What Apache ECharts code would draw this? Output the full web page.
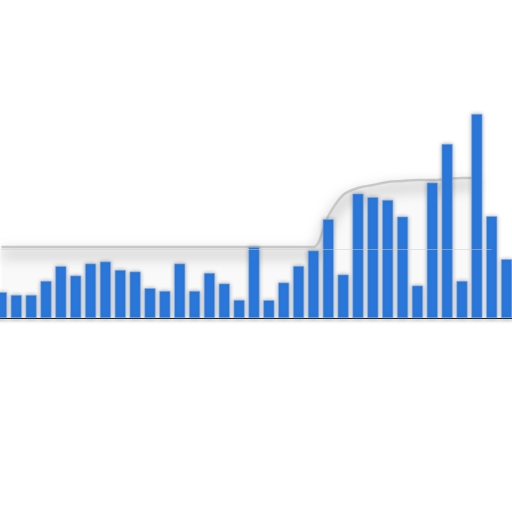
<!DOCTYPE html>
<html>
<head>
<meta charset="utf-8">
<script src="https://cdn.jsdelivr.net/npm/echarts@6/dist/echarts.min.js"></script>
<style>
html,body{margin:0;padding:0;background:#fff;overflow:hidden;width:512px;height:512px;}
#c{position:absolute;left:-6px;top:0;width:520px;height:512px;}
</style>
</head>
<body>
<div id="c"></div>
<script>
const categories = ['1','2','3','4','5','6','7','8','9','10','11','12','13','14','15','16','17','18','19','20','21','22','23','24','25','26','27','28','29','30','31','32','33','34','35'];
const barValues = [12.9,11.5,11.5,18.5,25.9,21.2,27.2,28.2,24,23.2,14.9,13.5,27.2,13.5,22.5,17.2,9,35.5,8.9,17.7,26,33.7,49.4,21.7,62.2,60.4,59,50.7,16.2,67.7,87,18.5,102,50.9,29.4];
const envelopeValues = [35.5,35.5,35.5,35.5,35.5,35.5,35.5,35.5,35.5,35.5,35.5,35.5,35.5,35.5,35.5,35.5,35.5,35.5,35.5,35.5,35.5,35.5,51,61.5,65,66.5,68,68.5,69,69,69.5,70,70,null,null];
const referenceValue = 34.5;
const referenceStart = '1';
const referenceEnd = '34';
const yMax = 150;

const chart = echarts.init(document.getElementById('c'));
chart.setOption({
  animation: false,
  backgroundColor: '#fff',
  grid: {left: 0, right: 0, top: 18, bottom: 194},
  xAxis: {
    type: 'category',
    data: categories,
    boundaryGap: true,
    axisLine: {show: true, lineStyle: {color: '#222', width: 1, shadowColor: 'rgba(0,0,0,0.35)', shadowBlur: 3, shadowOffsetY: 2}},
    axisTick: {show: false},
    axisLabel: {show: false},
    splitLine: {show: false}
  },
  yAxis: {
    type: 'value',
    min: 0,
    max: yMax,
    show: false,
    splitLine: {show: false}
  },
  series: [
    {
      type: 'line',
      data: envelopeValues,
      smooth: 0.35,
      symbol: 'none',
      z: 1,
      lineStyle: {color: '#c8c8c8', width: 2.5, shadowColor: 'rgba(0,0,0,0.6)', shadowBlur: 14, shadowOffsetY: 7},
      areaStyle: {color: 'rgba(0,0,0,0.03)'},
      markLine: {
        silent: true,
        symbol: 'none',
        label: {show: false},
        lineStyle: {color: '#cfcfcf', type: 'dotted', width: 1},
        data: [[{xAxis: referenceStart, yAxis: referenceValue}, {xAxis: referenceEnd, yAxis: referenceValue}]]
      }
    },
    {
      type: 'bar',
      data: barValues,
      barWidth: '74%',
      z: 3,
      itemStyle: {
        color: '#2b78dc',
        borderColor: '#7fb0ec',
        borderWidth: 0.6,
        shadowColor: 'rgba(0,0,0,0.3)',
        shadowBlur: 4
      }
    }
  ]
});
</script>
</body>
</html>
